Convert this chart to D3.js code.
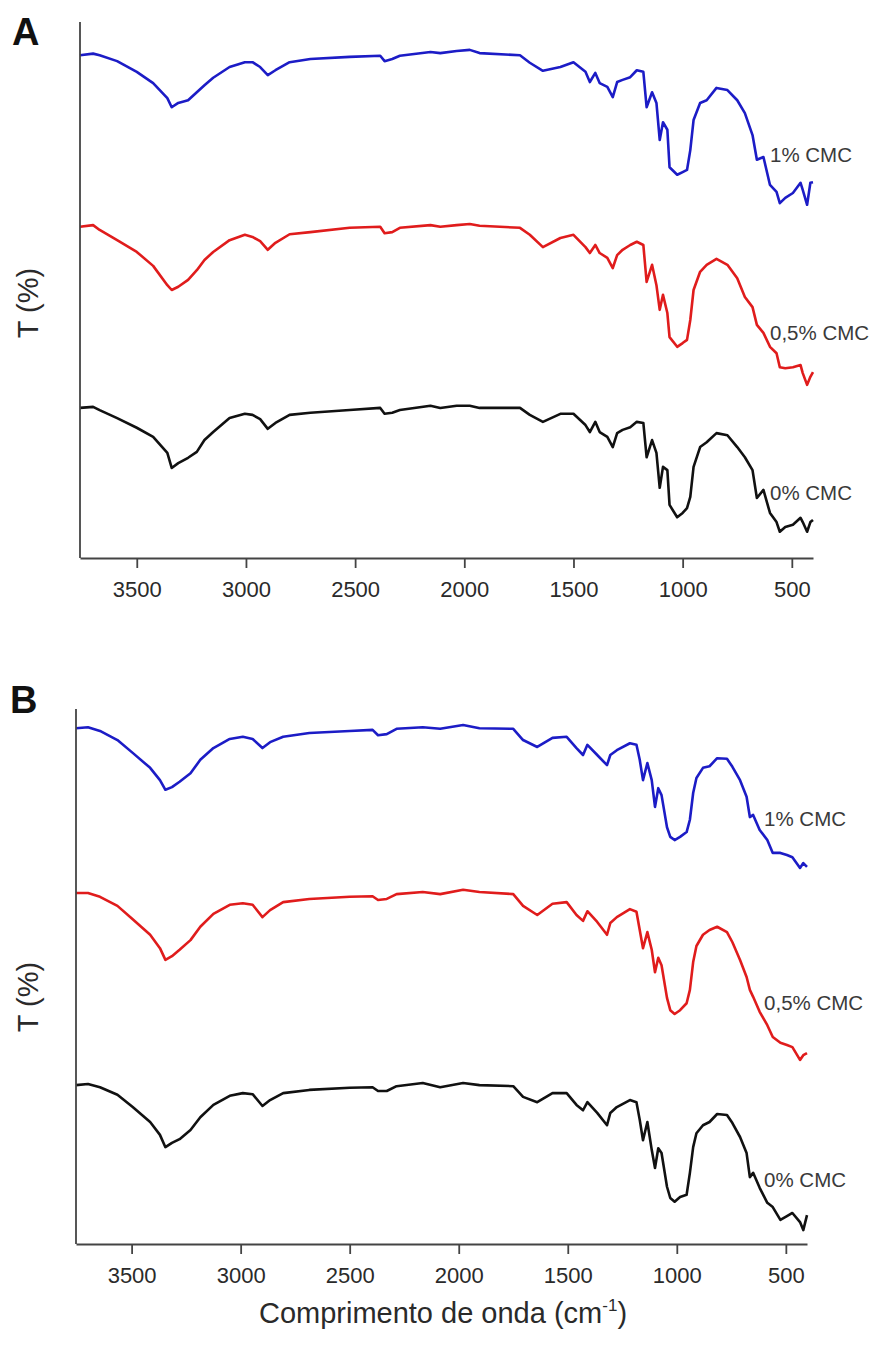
<!DOCTYPE html>
<html>
<head>
<meta charset="utf-8">
<script src="https://cdn.jsdelivr.net/npm/d3@7"></script>
<style>
  body { margin: 0; background: #fff; }
  svg { display: block; font-family: "Liberation Sans", Arial, sans-serif; }
</style>
</head>
<body>
<svg id="chart" width="880" height="1345"></svg>
<script>
// series names and x ticks
var seriesNames = ["1% CMC", "0,5% CMC", "0% CMC"];
var xTicks = [3500, 3000, 2500, 2000, 1500, 1000, 500];

// panel A - wavenumbers (cm-1) and transmittance (stacked, a.u.)
var wnA = [3760, 3700, 3670, 3590, 3500, 3425, 3360, 3340, 3310, 3265,
  3225, 3190, 3150, 3075, 3005, 2970, 2935, 2900, 2865, 2800,
  2705, 2525, 2385, 2365, 2330, 2295, 2155, 2110, 2035, 1975,
  1930, 1745, 1700, 1640, 1560, 1500, 1445, 1425, 1400, 1380,
  1345, 1320, 1300, 1275, 1240, 1210, 1180, 1165, 1140, 1120,
  1105, 1090, 1070, 1060, 1025, 1000, 980, 965, 950, 920,
  890, 845, 795, 750, 715, 680, 660, 630, 600, 570,
  555, 530, 495, 460, 450, 430, 415, 403];
var cmc1A = [93.8, 94.1, 93.8, 92.7, 90.7, 88.6, 85.8, 84.1, 84.9, 85.4,
  86.9, 88.2, 89.6, 91.6, 92.5, 92.5, 91.6, 90.1, 91.0, 92.5,
  93.1, 93.5, 93.7, 92.7, 93.1, 93.7, 94.4, 94.2, 94.6, 94.8,
  94.2, 93.8, 92.4, 90.9, 91.6, 92.5, 90.7, 88.8, 90.5, 88.6,
  87.9, 86.0, 88.8, 89.2, 89.7, 91.0, 90.7, 84.1, 86.9, 84.9,
  78.0, 81.3, 79.9, 72.9, 71.5, 72.0, 72.4, 76.1, 81.7, 84.9,
  85.4, 87.7, 87.3, 85.4, 83.0, 78.9, 74.3, 74.8, 69.6, 68.3,
  66.2, 67.2, 68.1, 70.0, 68.7, 65.9, 70.0, 70.1];
var cmc05A = [61.8, 62.1, 61.2, 59.3, 57.1, 54.5, 50.9, 50.0, 50.6, 51.9,
  53.7, 55.6, 57.1, 59.3, 60.3, 59.9, 59.1, 57.5, 58.8, 60.4,
  60.8, 61.6, 61.8, 60.6, 60.8, 61.6, 62.1, 61.8, 62.1, 62.3,
  62.0, 61.6, 60.3, 58.0, 59.7, 60.3, 58.0, 56.9, 58.4, 56.9,
  56.0, 54.1, 56.5, 57.5, 58.4, 59.0, 58.4, 51.5, 54.7, 50.9,
  46.3, 49.1, 45.7, 41.2, 39.4, 40.1, 40.7, 44.4, 50.0, 53.4,
  54.7, 55.8, 54.7, 52.2, 48.7, 46.8, 43.5, 42.0, 39.4, 38.2,
  35.6, 35.4, 35.6, 36.0, 34.5, 32.3, 33.8, 34.7];
var cmc0A = [28.0, 28.2, 27.6, 26.1, 24.3, 22.6, 19.6, 16.8, 17.7, 18.7,
  19.8, 22.0, 23.5, 26.1, 26.9, 26.7, 25.9, 24.1, 25.2, 26.7,
  27.1, 27.6, 28.0, 26.9, 27.1, 27.6, 28.4, 28.0, 28.4, 28.4,
  28.0, 28.0, 26.7, 25.4, 26.9, 26.9, 24.8, 23.5, 25.4, 23.5,
  22.6, 20.7, 23.3, 23.9, 24.4, 25.4, 25.2, 18.8, 22.0, 19.6,
  13.1, 17.0, 16.4, 9.9, 7.6, 8.4, 9.3, 11.4, 17.0, 20.7,
  21.6, 23.3, 22.9, 20.7, 18.8, 16.4, 11.2, 12.7, 8.4, 6.7,
  4.9, 5.8, 6.2, 7.5, 6.7, 4.9, 6.7, 7.1];

// panel B
var wnB = [3755, 3700, 3645, 3565, 3495, 3415, 3370, 3345, 3315, 3280,
  3230, 3185, 3125, 3050, 2990, 2945, 2900, 2865, 2805, 2685,
  2500, 2395, 2370, 2330, 2285, 2165, 2085, 1980, 1905, 1750,
  1705, 1640, 1570, 1505, 1460, 1430, 1410, 1365, 1320, 1305,
  1275, 1215, 1185, 1170, 1155, 1135, 1115, 1100, 1085, 1070,
  1045, 1030, 1010, 985, 955, 940, 925, 910, 880, 850,
  815, 770, 745, 710, 680, 665, 650, 620, 585, 560,
  525, 495, 470, 435, 420, 403];
var cmc1B = [96.4, 96.6, 95.9, 94.2, 91.8, 89.0, 86.7, 84.9, 85.4, 86.4,
  88.0, 90.5, 92.7, 94.4, 94.8, 94.4, 92.7, 93.8, 94.8, 95.5,
  95.9, 96.1, 95.1, 95.3, 96.3, 96.6, 96.3, 97.0, 96.4, 96.3,
  94.2, 92.9, 94.6, 94.8, 92.7, 91.4, 93.3, 91.4, 89.5, 91.4,
  92.3, 93.6, 93.3, 90.5, 86.7, 89.9, 86.7, 81.7, 85.2, 83.9,
  77.9, 76.1, 75.5, 76.1, 77.0, 79.3, 84.3, 87.1, 89.0, 89.3,
  90.8, 90.7, 89.2, 86.7, 83.6, 79.8, 80.2, 77.4, 75.5, 73.1,
  73.1, 72.7, 72.3, 70.3, 71.2, 70.5];
var cmc05B = [65.6, 65.6, 64.9, 63.2, 60.7, 57.8, 55.3, 53.1, 53.8, 55.0,
  56.8, 59.3, 61.7, 63.4, 63.7, 63.4, 61.1, 62.4, 63.9, 64.5,
  64.9, 65.0, 64.3, 64.5, 65.4, 65.8, 65.4, 66.2, 65.8, 65.4,
  63.2, 61.5, 63.6, 63.9, 61.5, 60.4, 62.2, 60.2, 57.8, 60.0,
  61.1, 62.6, 62.1, 58.7, 55.3, 58.3, 55.0, 50.8, 53.5, 52.1,
  46.0, 43.7, 43.0, 43.7, 45.0, 47.5, 52.7, 55.7, 57.8, 58.7,
  59.3, 58.3, 56.4, 53.1, 49.9, 47.5, 46.2, 43.4, 40.9, 38.7,
  37.6, 37.2, 36.8, 34.4, 35.3, 35.7];
var cmc0B = [29.7, 29.9, 29.3, 27.9, 25.6, 22.8, 20.4, 18.1, 18.9, 19.6,
  21.3, 23.7, 26.0, 27.7, 28.2, 28.0, 25.8, 26.9, 28.2, 28.8,
  29.2, 29.3, 28.6, 28.6, 29.5, 30.1, 29.3, 30.1, 29.7, 29.5,
  27.5, 26.5, 28.2, 28.2, 26.0, 25.0, 26.5, 24.5, 22.2, 24.5,
  25.6, 26.9, 26.5, 23.2, 19.4, 22.8, 17.6, 14.2, 17.9, 17.0,
  10.7, 8.6, 7.9, 8.8, 9.2, 13.3, 18.1, 20.7, 22.2, 22.8,
  24.3, 24.1, 22.6, 20.0, 17.0, 12.5, 13.3, 10.5, 7.7, 6.9,
  4.5, 5.2, 5.8, 4.1, 2.6, 5.4];

var colors = ["#1c1cc6", "#e01c1c", "#111111"];

var svg = d3.select("#chart");
svg.append("rect").attr("width", 880).attr("height", 1345).attr("fill", "#fff");

function drawPanel(p) {
    var x = d3.scaleLinear().domain(p.xDomain).range([p.left, p.right]);
    var y = d3.scaleLinear().domain([0, 100]).range([p.bottom, p.top]);

    var line = d3.line()
        .x(function(d) { return x(d[0]); })
        .y(function(d) { return y(d[1]); });

    var g = svg.append("g");

    p.series.forEach(function(s, i) {
        var pts = p.wn.map(function(w, j) { return [w, s[j]]; });
        g.append("path")
            .datum(pts)
            .attr("d", line)
            .attr("fill", "none")
            .attr("stroke", colors[i])
            .attr("stroke-width", 2.6)
            .attr("stroke-linejoin", "round");
    });

    // y axis (no ticks)
    g.append("line")
        .attr("x1", p.left).attr("x2", p.left)
        .attr("y1", p.top).attr("y2", p.bottom)
        .attr("stroke", "#444").attr("stroke-width", 1.8);

    var xAxis = g.append("g")
        .attr("transform", "translate(0," + p.bottom + ")")
        .call(d3.axisBottom(x).tickValues(xTicks).tickFormat(d3.format("d"))
            .tickSize(10).tickSizeOuter(0));
    xAxis.select(".domain").attr("stroke", "#444").attr("stroke-width", 1.8);
    xAxis.selectAll(".tick line").attr("stroke", "#444").attr("stroke-width", 1.8);
    xAxis.selectAll(".tick text")
        .attr("y", 39).attr("dy", 0)
        .attr("font-size", 22)
        .attr("font-family", "Liberation Sans, Arial, sans-serif")
        .attr("fill", "#2a2a2a");

    // series labels
    p.labelY.forEach(function(v, i) {
        g.append("text")
            .attr("x", x(600))
            .attr("y", y(v))
            .attr("dominant-baseline", "central")
            .attr("font-size", 20.5)
            .attr("fill", "#3a3a3a")
            .text(seriesNames[i]);
    });

    // y title
    g.append("text")
        .attr("transform", "translate(" + p.yTitleX + "," + p.yTitleY + ") rotate(-90)")
        .attr("text-anchor", "middle")
        .attr("dominant-baseline", "central")
        .attr("font-size", 29)
        .attr("fill", "#2a2a2a")
        .text("T (%)");

    // panel letter
    g.append("text")
        .attr("x", p.letterX).attr("y", p.letterY)
        .attr("font-size", 38)
        .attr("font-weight", "bold")
        .attr("fill", "#111")
        .text(p.letter);
}

drawPanel({
    letter: "A", letterX: 12, letterY: 45,
    left: 80, right: 813, top: 22, bottom: 558,
    xDomain: [3760, 403],
    wn: wnA, series: [cmc1A, cmc05A, cmc0A],
    labelY: [75.2, 42.0, 12.3],
    yTitleX: 28, yTitleY: 303
});

drawPanel({
    letter: "B", letterX: 10, letterY: 713,
    left: 76, right: 807, top: 709, bottom: 1244,
    xDomain: [3755, 403],
    wn: wnB, series: [cmc1B, cmc05B, cmc0B],
    labelY: [79.6, 45.2, 12.0],
    yTitleX: 28, yTitleY: 997
});

// x title
var xt = svg.append("text")
    .attr("x", 443).attr("y", 1323)
    .attr("text-anchor", "middle")
    .attr("font-size", 29)
    .attr("fill", "#2a2a2a");
xt.append("tspan").text("Comprimento de onda (cm");
xt.append("tspan").attr("font-size", 17).attr("dy", -12).text("-1");
xt.append("tspan").attr("dy", 12).text(")");
</script>
</body>
</html>
